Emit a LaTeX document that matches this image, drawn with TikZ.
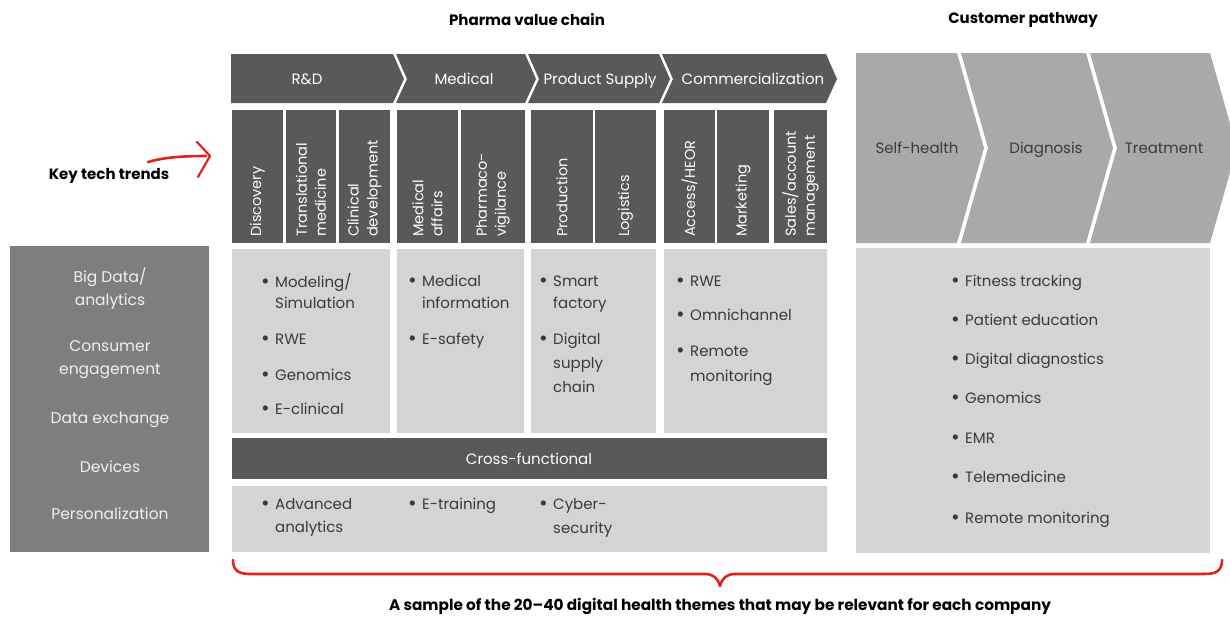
\documentclass[tikz,border=0pt]{standalone}
\usepackage{fontspec}
\setmainfont{Poppins}
\definecolor{dk}{HTML}{58595B}
\definecolor{md}{HTML}{7D7E80}
\definecolor{cg}{HTML}{A7A9AB}
\definecolor{lt}{HTML}{D3D4D6}
\definecolor{rd}{HTML}{E2231A}
\definecolor{tx}{HTML}{3A3A3C}
\newcommand\bul{\makebox[14pt][l]{\raisebox{-1.6pt}{\fontsize{21}{21}\selectfont\textbullet}}}
\newcommand\ind{\hspace*{14pt}}
\begin{document}
\begin{tikzpicture}[x=1pt,y=-1pt,
  darkshape/.style={fill=dk},
  lightbox/.style={fill=lt},
  graychev/.style={fill=cg},
  chevlab/.style={text=white, font=\fontsize{15}{18}\selectfont, inner sep=0, anchor=base},
  custlab/.style={text=tx, font=\fontsize{15}{18}\selectfont, inner sep=0},
  vlab/.style={rotate=90, anchor=west, text=white, align=left, inner sep=0, font=\fontsize{14.5}{19}\selectfont},
  itm/.style={anchor=base west, align=left, inner sep=0, text=tx, font=\fontsize{15}{22}\selectfont},
  leftlab/.style={text=white!94!black, align=center, inner sep=0, font=\fontsize{15.5}{23}\selectfont},
  title/.style={font=\bfseries\fontsize{15}{18}\selectfont, text=black, inner sep=0},
  redline/.style={draw=rd, line width=2.6pt, line cap=round, line join=round}
]
\useasboundingbox (0,0) rectangle (1230,619);
\clip (0,0) rectangle (1230,619);

% titles
\node[title] (tpharma) at (527,20) {Pharma value chain};
\node[title] (tcust) at (1023,20) {Customer pathway};

% pharma chevrons
\fill[darkshape] (231,54) -- (393,54) -- (404,79) -- (393,103) -- (231,103) -- cycle;
\fill[darkshape] (396,54) -- (525,54) -- (536,79) -- (525,103) -- (396,103) -- (407,79) -- cycle;
\fill[darkshape] (528,54) -- (659,54) -- (670,79) -- (659,103) -- (528,103) -- (539,79) -- cycle;
\fill[darkshape] (662,54) -- (826,54) -- (837,79) -- (826,103) -- (662,103) -- (673,79) -- cycle;
\node[chevlab] (crd) at (307,84.5) {R\&D};
\node[chevlab] (cmed) at (464,84.5) {Medical};
\node[chevlab] (cps) at (600,84.5) {Product Supply};
\node[chevlab] (ccom) at (753,84.5) {Commercialization};

% sub-columns
\foreach \a/\b in {232/283, 286/336, 339/390, 397/458, 461/525, 531/593, 595/656, 664/715, 717/769, 774/827}
  \fill[darkshape] (\a,110) rectangle (\b,243);
\node[vlab] (v1) at (257.5,237) {Discovery};
\node[vlab] (v2) at (311,237) {Translational\\medicine};
\node[vlab] (v3) at (364.5,237) {Clinical\\development};
\node[vlab] (v4) at (427.5,237) {Medical\\affairs};
\node[vlab] (v5) at (493,237) {Pharmaco-\\vigilance};
\node[vlab] (v6) at (562,237) {Production};
\node[vlab] (v7) at (625.5,237) {Logistics};
\node[vlab] (v8) at (689.5,237) {Access/HEOR};
\node[vlab] (v9) at (743,237) {Marketing};
\node[vlab] (v10) at (800.5,237) {Sales/account\\management};

% content boxes
\fill[lightbox] (232,249) rectangle (390,433);
\fill[lightbox] (397,249) rectangle (524,433);
\fill[lightbox] (531,249) rectangle (656,433);
\fill[lightbox] (664,249) rectangle (827,433);
\fill[darkshape] (232,438) rectangle (827,479);
\node[chevlab] (cross) at (529,464.5) {Cross-functional};
\fill[lightbox] (232,486) rectangle (827,552);

% R&D items (base = last line)
\node[itm,font=\fontsize{15}{21}\selectfont] (r1) at (261,308) {\bul Modeling/\\\ind Simulation};
\node[itm] (r2) at (261,344) {\bul RWE};
\node[itm] (r3) at (261,380) {\bul Genomics};
\node[itm] (r4) at (261,414) {\bul E-clinical};
% Medical items
\node[itm,font=\fontsize{15}{22}\selectfont] (m1) at (408,308) {\bul Medical\\\ind information};
\node[itm] (m2) at (408,344) {\bul E-safety};
% Product supply items
\node[itm] (p1) at (539,308) {\bul Smart\\\ind factory};
\node[itm,font=\fontsize{15}{24}\selectfont] (p2) at (539,392) {\bul Digital\\\ind supply\\\ind chain};
% Commercial items
\node[itm] (k1) at (676,286) {\bul RWE};
\node[itm] (k2) at (676,320) {\bul Omnichannel};
\node[itm,font=\fontsize{15}{25}\selectfont] (k3) at (676,381) {\bul Remote\\\ind monitoring};
% cross-functional items
\node[itm,font=\fontsize{15}{23}\selectfont] (x1) at (261,532) {\bul Advanced\\\ind analytics};
\node[itm] (x2) at (408,509) {\bul E-training};
\node[itm,font=\fontsize{15}{24}\selectfont] (x3) at (539,533) {\bul Cyber-\\\ind security};

% customer pathway chevrons
\fill[graychev] (856,53) -- (957,53) -- (984,148) -- (957,243) -- (856,243) -- cycle;
\fill[graychev] (961,53) -- (1086,53) -- (1113,148) -- (1086,243) -- (961,243) -- (988,148) -- cycle;
\fill[graychev] (1090,53) -- (1210,53) -- (1237,148) -- (1210,243) -- (1090,243) -- (1117,148) -- cycle;
\node[custlab, anchor=base] (s1) at (917,153.5) {Self-health};
\node[custlab, anchor=base] (s2) at (1046,153.5) {Diagnosis};
\node[custlab, anchor=base] (s3) at (1164,153.5) {Treatment};
\fill[lightbox] (856,248) rectangle (1210,553);
\node[itm] (c1) at (951,286) {\bul Fitness tracking};
\node[itm] (c2) at (951,325) {\bul Patient education};
\node[itm] (c3) at (951,364) {\bul Digital diagnostics};
\node[itm] (c4) at (951,403) {\bul Genomics};
\node[itm] (c5) at (951,443) {\bul EMR};
\node[itm] (c6) at (951,482) {\bul Telemedicine};
\node[itm] (c7) at (951,523) {\bul Remote monitoring};

% left box
\fill[md] (10,246) rectangle (209,552);
\node[leftlab] (l1) at (110,289) {Big Data/\\analytics};
\node[leftlab] (l2) at (110,360) {Consumer\\engagement};
\node[leftlab] (l3) at (110,420) {Data exchange};
\node[leftlab] (l4) at (110,467) {Devices};
\node[leftlab] (l5) at (110,514) {Personalization};

% key tech trends
\node[title] (key) at (109,176) {Key tech trends};
\coordinate (ka) at (148,162);
\coordinate (kb) at (206,156);
\coordinate (kh1) at (197,142);
\coordinate (kt) at (210,156);
\coordinate (kh2) at (198,177);
\draw[redline] (ka) .. controls (165,157) and (185,156) .. (kb);
\draw[redline, line width=2.2pt] (kh1) -- (kt) -- (kh2);

% bottom brace
\coordinate (bl) at (233,560);
\coordinate (bm) at (720,586);
\coordinate (br) at (1222,560);
\draw[redline] (bl) .. controls (233,570) and (238,574) .. (250,574) -- (705,574)
  .. controls (713,574) and (718,578) .. (bm)
  .. controls (722,578) and (727,574) .. (735,574) -- (1205,574)
  .. controls (1217,574) and (1222,570) .. (br);
\node[title, font=\bfseries\fontsize{15.3}{18}\selectfont] (bottom) at (720,606) {A sample of the 20--40 digital health themes that may be relevant for each company};
\end{tikzpicture}
\end{document}
